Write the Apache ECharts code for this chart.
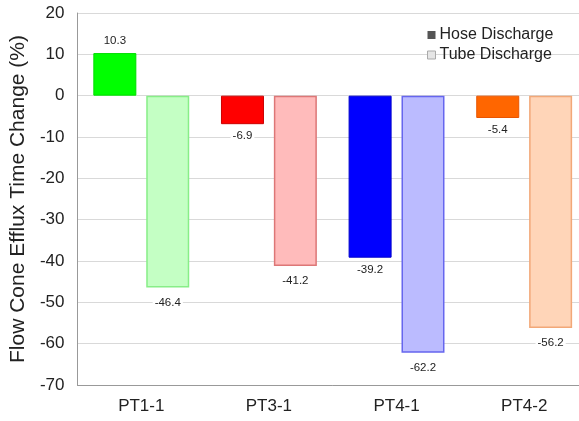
<!DOCTYPE html>
<html><head><meta charset="utf-8">
<script src="https://cdn.jsdelivr.net/npm/echarts@6/dist/echarts.min.js"></script>
<style>html,body{margin:0;padding:0;background:#fff;overflow:hidden}#c{width:600px;height:421px}</style>
</head><body><div id="c"></div>
<script>
const categories = ['PT1-1', 'PT3-1', 'PT4-1', 'PT4-2'];
const hoseValues = [10.3, -6.9, -39.2, -5.4];
const tubeValues = [-46.4, -41.2, -62.2, -56.2];
const hoseColors = ['#00ff00', '#ff0000', '#0000ff', '#ff6600'];
const hoseBorders = ['#00dd00', '#cc0000', '#0000cc', '#e85500'];
const tubeColors = ['#c4ffc4', '#ffbbbb', '#bbbbff', '#ffd5b8'];
const tubeBorders = ['#88ee88', '#dd7777', '#6666ee', '#f2a878'];

const chart = echarts.init(document.getElementById('c'));
chart.setOption({
  animation: false,
  textStyle: { fontFamily: 'Liberation Sans, Arial, sans-serif' },
  grid: { left: 76, top: 13, width: 512, height: 372 },
  legend: {
    left: 422, top: 22, orient: 'vertical', itemGap: 4,
    itemWidth: 8, itemHeight: 8, icon: 'rect',
    textStyle: { fontSize: 16, color: '#222', padding: [0, 0, 0, -1] },
    data: [
      { name: 'Hose Discharge', itemStyle: { color: '#555555' } },
      { name: 'Tube Discharge', itemStyle: { color: '#e6e6e6', borderColor: '#aaa', borderWidth: 1 } }
    ]
  },
  xAxis: {
    type: 'category', data: categories,
    axisLine: { onZero: false, lineStyle: { color: '#999' } },
    axisTick: { show: false },
    axisLabel: { fontSize: 17, color: '#222', margin: 13 }
  },
  yAxis: {
    type: 'value', min: -70, max: 20, interval: 10,
    name: 'Flow Cone Efflux Time Change (%)', nameLocation: 'middle', nameGap: 44,
    nameTextStyle: { fontSize: 21, color: '#222' },
    axisLine: { show: true, lineStyle: { color: '#999' } },
    axisTick: { show: false },
    axisLabel: { fontSize: 17, color: '#222', margin: 13 },
    splitLine: { lineStyle: { color: '#d9d9d9' } }
  },
  series: [
    {
      name: 'Hose Discharge', type: 'bar', barWidth: 43, barGap: '23%',
      itemStyle: { color: '#555555' },
      data: hoseValues.map((v, i) => ({
        value: v,
        itemStyle: { color: hoseColors[i], borderColor: hoseBorders[i], borderWidth: 1 },
        label: { position: v >= 0 ? 'top' : 'bottom' }
      })),
      label: { show: true, fontSize: 11.5, color: '#222', distance: 5, backgroundColor: '#fff', padding: [1, 2] }
    },
    {
      name: 'Tube Discharge', type: 'bar', barWidth: 43,
      itemStyle: { color: '#e6e6e6' },
      data: tubeValues.map((v, i) => ({
        value: v,
        itemStyle: { color: tubeColors[i], borderColor: tubeBorders[i], borderWidth: 1.5 },
        label: { position: 'bottom' }
      })),
      label: { show: true, fontSize: 11.5, color: '#222', distance: 8, backgroundColor: '#fff', padding: [1, 2] }
    }
  ]
});
</script></body></html>
